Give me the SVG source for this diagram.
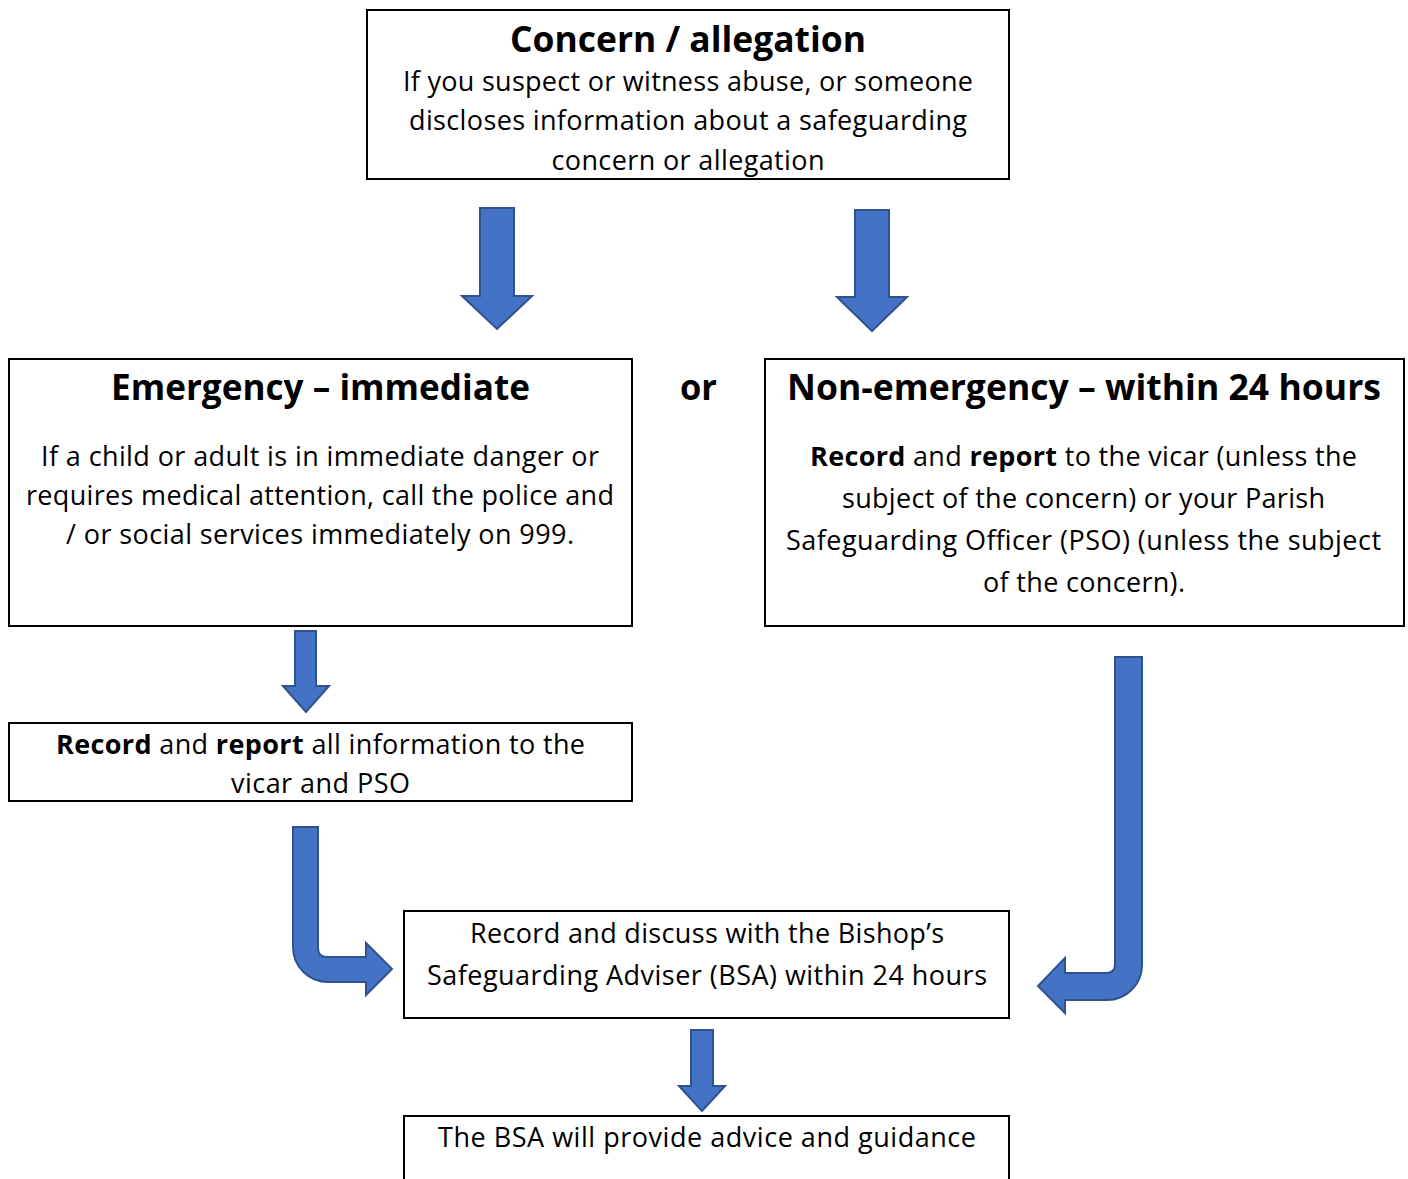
<svg xmlns="http://www.w3.org/2000/svg" width="1408" height="1179" viewBox="0 0 1408 1179">
<style>
.box{fill:#fff;stroke:#000;stroke-width:2}
.arr{fill:#4472C4;stroke:#2F528F;stroke-width:2;stroke-linejoin:miter}
text{font-family:"Open Sans","Noto Sans","Liberation Sans",sans-serif;fill:#000;text-anchor:middle}
.t{font-size:36px;font-weight:bold}
.b{font-size:27px}
.bold{font-weight:bold}
</style>
<rect width="1408" height="1179" fill="#fff"/>
<g id="connectors">
<path class="arr" d="M480,208 H514 V296 H532 L497,329 L462,296 H480 Z"/>
<path class="arr" d="M855,210 H889 V297 H907 L872,331 L837,297 H855 Z"/>
<path class="arr" d="M295,631 H316 V686 H329 L306,712 L283,686 H295 Z"/>
<path class="arr" d="M691,1030 H713 V1086 H725 L702,1111 L679,1086 H691 Z"/>
<path class="arr" d="M293,827 H318 V948 Q318,957 327,957 H366 V943 L392,969 L366,995 V982 H328 A35,35 0 0 1 293,947 Z"/>
<path class="arr" d="M1115,657 H1142 V965 A35,35 0 0 1 1107,1000 H1065 V1013 L1038,986 L1065,958 V973 H1106 Q1115,973 1115,964 Z"/>
</g>
<g id="concern">
<rect class="box" x="367" y="10" width="642" height="169"/>
<text class="t" x="688" y="52" textLength="356" lengthAdjust="spacingAndGlyphs">Concern / allegation</text>
<text class="b" x="688" y="91" textLength="570">If you suspect or witness abuse, or someone</text>
<text class="b" x="688" y="130" textLength="558">discloses information about a safeguarding</text>
<text class="b" x="688" y="170" textLength="273">concern or allegation</text>
</g>
<g id="emergency">
<rect class="box" x="9" y="359" width="623" height="267"/>
<text class="t" x="320.5" y="400" textLength="419" lengthAdjust="spacingAndGlyphs">Emergency – immediate</text>
<text class="b" x="320" y="466" textLength="558">If a child or adult is in immediate danger or</text>
<text class="b" x="320" y="505" textLength="588">requires medical attention, call the police and</text>
<text class="b" x="320" y="544" textLength="508">/ or social services immediately on 999.</text>
</g>
<g id="or">
<text class="t" x="698.5" y="400" textLength="37" lengthAdjust="spacingAndGlyphs">or</text>
</g>
<g id="non-emergency">
<rect class="box" x="765" y="359" width="639" height="267"/>
<text class="t" x="1084" y="400" textLength="594" lengthAdjust="spacingAndGlyphs">Non-emergency – within 24 hours</text>
<text class="b" x="1083.5" y="466" textLength="547"><tspan class="bold">Record</tspan> and <tspan class="bold">report</tspan> to the vicar (unless the</text>
<text class="b" x="1083.5" y="508" textLength="483">subject of the concern) or your Parish</text>
<text class="b" x="1083.5" y="550" textLength="595">Safeguarding Officer (PSO) (unless the subject</text>
<text class="b" x="1084" y="592" textLength="202">of the concern).</text>
</g>
<g id="record-report">
<rect class="box" x="9" y="723" width="623" height="78"/>
<text class="b" x="320.5" y="754" textLength="529"><tspan class="bold">Record</tspan> and <tspan class="bold">report</tspan> all information to the</text>
<text class="b" x="320.5" y="793" textLength="179">vicar and PSO</text>
</g>
<g id="bsa">
<rect class="box" x="404" y="911" width="605" height="107"/>
<text class="b" x="707" y="943" textLength="474">Record and discuss with the Bishop’s</text>
<text class="b" x="707" y="985" textLength="560">Safeguarding Adviser (BSA) within 24 hours</text>
</g>
<g id="advice">
<rect class="box" x="404" y="1116" width="605" height="80"/>
<text class="b" x="707" y="1147" textLength="538">The BSA will provide advice and guidance</text>
</g>
</svg>
